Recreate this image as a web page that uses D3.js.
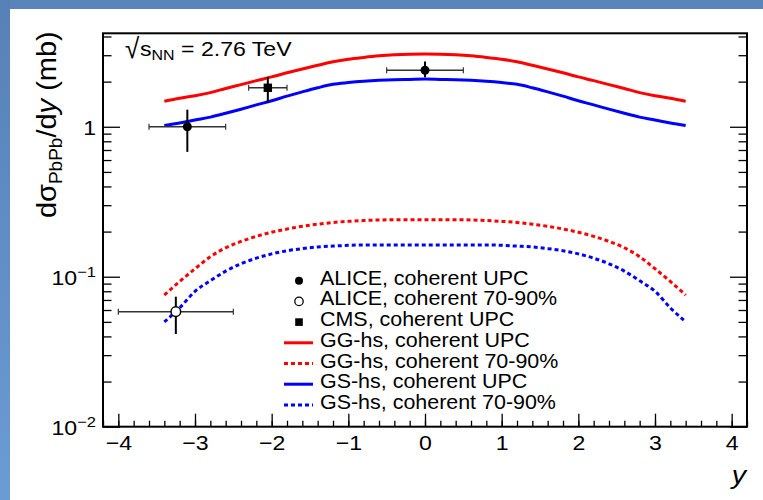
<!DOCTYPE html>
<html>
<head>
<meta charset="utf-8">
<script src="https://cdn.jsdelivr.net/npm/d3@7"></script>
<style>
  html, body { margin: 0; padding: 0; background: #ffffff; }
  svg { display: block; font-family: "Liberation Sans", Arial, Helvetica, sans-serif; }
</style>
</head>
<body>
<svg id="chart" width="763" height="500"></svg>
<script>
// ---- model curves: rapidity grid and cross sections (mb) ----
const rapidity = [-3.4, -3.2, -3.0, -2.8, -2.6, -2.4, -2.2, -2.0, -1.8, -1.6, -1.4, -1.2, -1.0, -0.8, -0.6, -0.4, -0.2, 0.0,
                  0.2, 0.4, 0.6, 0.8, 1.0, 1.2, 1.4, 1.6, 1.8, 2.0, 2.2, 2.4, 2.6, 2.8, 3.0, 3.2, 3.4];
const ggUPC = [1.48, 1.55, 1.61, 1.69, 1.80, 1.91, 2.03, 2.15, 2.29, 2.43, 2.57, 2.71, 2.82, 2.90, 2.97, 3.02, 3.05, 3.06,
               3.05, 3.02, 2.97, 2.90, 2.82, 2.71, 2.57, 2.43, 2.29, 2.15, 2.03, 1.91, 1.80, 1.69, 1.61, 1.55, 1.48];
const ggPeriph = [0.0755, 0.093, 0.113, 0.136, 0.156, 0.172, 0.186, 0.198, 0.208, 0.217, 0.224, 0.230, 0.234, 0.237, 0.239, 0.240, 0.240, 0.240,
                  0.240, 0.240, 0.239, 0.237, 0.234, 0.230, 0.224, 0.217, 0.208, 0.198, 0.186, 0.172, 0.156, 0.136, 0.113, 0.093, 0.0755];
const gsUPC = [1.02, 1.06, 1.11, 1.16, 1.23, 1.31, 1.40, 1.49, 1.60, 1.71, 1.82, 1.92, 1.97, 2.01, 2.04, 2.06, 2.07, 2.08,
               2.07, 2.06, 2.04, 2.01, 1.97, 1.92, 1.82, 1.71, 1.60, 1.49, 1.40, 1.31, 1.23, 1.16, 1.11, 1.06, 1.02];
const gsPeriph = [0.050, 0.062, 0.080, 0.094, 0.109, 0.122, 0.133, 0.142, 0.149, 0.154, 0.158, 0.160, 0.162, 0.163, 0.163, 0.163, 0.163, 0.163,
                  0.163, 0.163, 0.163, 0.163, 0.162, 0.160, 0.158, 0.154, 0.149, 0.142, 0.133, 0.122, 0.109, 0.094, 0.080, 0.062, 0.050];

// ---- measurements: centre, rapidity bin edges, value, error band (mb) ----
const aliceUPC = [
  { y: -3.1, yLo: -3.6, yHi: -2.6, v: 1.00, vLo: 0.68, vHi: 1.30 },
  { y: 0.0, yLo: -0.5, yHi: 0.5, v: 2.38, vLo: 2.14, vHi: 2.72 }
];
const alicePeriph = [
  { y: -3.25, yLo: -4.0, yHi: -2.5, v: 0.0585, vLo: 0.0415, vHi: 0.0736 }
];
const cmsUPC = [
  { y: -2.05, yLo: -2.3, yHi: -1.8, v: 1.82, vLo: 1.45, vHi: 2.15 }
];

// ---- axes ----
const xMajor = [-4, -3, -2, -1, 0, 1, 2, 3, 4];
const xMinor = d3.range(-42, 43, 2).map(v => v / 10);
const yMajor = [0.01, 0.1, 1];
const yTickLabels = [["10", "\u22122"], ["10", "\u22121"], ["1", ""]];
const yMinor = [0.02, 0.03, 0.04, 0.05, 0.06, 0.07, 0.08, 0.09, 0.2, 0.3, 0.4, 0.5, 0.6, 0.7, 0.8, 0.9, 2, 3, 4];

const legendItems = [
  { label: "ALICE, coherent UPC", kind: "dot" },
  { label: "ALICE, coherent 70-90%", kind: "open" },
  { label: "CMS, coherent UPC", kind: "square" },
  { label: "GG-hs, coherent UPC", kind: "line", color: "#ff0000", dashed: false },
  { label: "GG-hs, coherent 70-90%", kind: "line", color: "#ff0000", dashed: true },
  { label: "GS-hs, coherent UPC", kind: "line", color: "#0000ff", dashed: false },
  { label: "GS-hs, coherent 70-90%", kind: "line", color: "#0000ff", dashed: true }
];

const W = 763, H = 500;
const plot = { left: 103, right: 747, top: 33.3, bottom: 426.7 };
const SX = 1.1; // horizontal stretch of the lettering

const svg = d3.select("#chart");

// page frame with blue border strips
const defs = svg.append("defs");
const gradLeft = defs.append("linearGradient").attr("id", "gl").attr("x1", 0).attr("y1", 0).attr("x2", 0).attr("y2", 1);
gradLeft.append("stop").attr("offset", "0%").attr("stop-color", "#5780b6");
gradLeft.append("stop").attr("offset", "100%").attr("stop-color", "#6a9cd3");
svg.append("rect").attr("width", W).attr("height", H).attr("fill", "#ffffff");
svg.append("rect").attr("x", 0).attr("y", 0).attr("width", W).attr("height", 9).attr("fill", "#5a85ba");
svg.append("rect").attr("x", 0).attr("y", 0).attr("width", 10).attr("height", H).attr("fill", "url(#gl)");

const x = d3.scaleLinear().domain([-4.2, 4.2]).range([plot.left, plot.right]);
const y = d3.scaleLog().domain([0.01, 4.2]).range([plot.bottom, plot.top]);

// bottom axis: major ticks with labels, minor ticks
svg.append("g").attr("transform", `translate(0,${plot.bottom})`)
  .call(d3.axisBottom(x).tickValues(xMinor.filter(v => v >= -4.2 && v <= 4.2)).tickSize(-6).tickFormat(""));
const gx = svg.append("g").attr("transform", `translate(0,${plot.bottom})`)
  .call(d3.axisBottom(x).tickValues(xMajor).tickSize(-13).tickPadding(8).tickFormat(d3.format("d")));
gx.selectAll("text").attr("font-size", 21).attr("fill", "#000").attr("transform", `scale(${SX},1)`);

// left axis
svg.append("g").attr("transform", `translate(${plot.left},0)`)
  .call(d3.axisLeft(y).tickValues(yMinor).tickSize(-8.5).tickFormat(""));
const gy = svg.append("g").attr("transform", `translate(${plot.left},0)`)
  .call(d3.axisLeft(y).tickValues(yMajor).tickSize(-17).tickFormat(""));
gy.selectAll(".tick text").each(function (d, i) {
  const t = d3.select(this).attr("x", -7 / SX).attr("dy", "0.36em").attr("fill", "#000")
    .attr("font-size", 21).attr("text-anchor", "end").attr("transform", `scale(${SX},1)`);
  const lab = yTickLabels[i];
  t.append("tspan").text(lab[0]);
  if (lab[1]) t.append("tspan").attr("dy", "-0.5em").attr("font-size", 15).text(lab[1]);
});

// right axis ticks (no labels)
svg.append("g").attr("transform", `translate(${plot.right},0)`)
  .call(d3.axisRight(y).tickValues(yMinor).tickSize(-8.5).tickFormat(""));
svg.append("g").attr("transform", `translate(${plot.right},0)`)
  .call(d3.axisRight(y).tickValues(yMajor).tickSize(-17).tickFormat(""));

svg.selectAll(".domain").remove();
svg.selectAll(".tick line").attr("stroke", "#000").attr("stroke-width", 1.3);

// plot frame
svg.append("rect")
  .attr("x", plot.left).attr("y", plot.top)
  .attr("width", plot.right - plot.left).attr("height", plot.bottom - plot.top)
  .attr("fill", "none").attr("stroke", "#000").attr("stroke-width", 2);

// model curves
const line = d3.line().x(d => x(d[0])).y(d => y(d[1])).curve(d3.curveMonotoneX);
const curves = [
  { vals: ggPeriph, color: "#ff0000", dashed: true },
  { vals: gsPeriph, color: "#0000ff", dashed: true },
  { vals: ggUPC, color: "#ff0000", dashed: false },
  { vals: gsUPC, color: "#0000ff", dashed: false }
];
curves.forEach(c => {
  svg.append("path")
    .datum(rapidity.map((r, i) => [r, c.vals[i]]))
    .attr("d", line)
    .attr("fill", "none")
    .attr("stroke", c.color)
    .attr("stroke-width", 3)
    .attr("stroke-dasharray", c.dashed ? "4,3" : null);
});

// measurement error bars and markers
function errorBars(data) {
  const g = svg.append("g");
  data.forEach(p => {
    g.append("line").attr("x1", x(p.yLo)).attr("x2", x(p.yHi)).attr("y1", y(p.v)).attr("y2", y(p.v))
      .attr("stroke", "#333").attr("stroke-width", 1.5);
    [p.yLo, p.yHi].forEach(e => g.append("line").attr("x1", x(e)).attr("x2", x(e))
      .attr("y1", y(p.v) - 3).attr("y2", y(p.v) + 3).attr("stroke", "#333").attr("stroke-width", 1.2));
    g.append("line").attr("x1", x(p.y)).attr("x2", x(p.y)).attr("y1", y(p.vLo)).attr("y2", y(p.vHi))
      .attr("stroke", "#000").attr("stroke-width", 2);
  });
}
errorBars(aliceUPC);
errorBars(alicePeriph);
errorBars(cmsUPC);

svg.append("g").selectAll("circle").data(aliceUPC).join("circle")
  .attr("cx", d => x(d.y)).attr("cy", d => y(d.v)).attr("r", 4.5).attr("fill", "#000");
svg.append("g").selectAll("circle").data(alicePeriph).join("circle")
  .attr("cx", d => x(d.y)).attr("cy", d => y(d.v)).attr("r", 4.8).attr("fill", "#fff")
  .attr("stroke", "#000").attr("stroke-width", 1.5);
svg.append("g").selectAll("rect").data(cmsUPC).join("rect")
  .attr("x", d => x(d.y) - 4.2).attr("y", d => y(d.v) - 4.2).attr("width", 8.4).attr("height", 8.4).attr("fill", "#000");

// legend
const legend = svg.append("g");
legendItems.forEach((it, i) => {
  const cy = 280.7 + i * 20.7;
  if (it.kind === "dot") legend.append("circle").attr("cx", 299).attr("cy", cy).attr("r", 4).attr("fill", "#000");
  if (it.kind === "open") legend.append("circle").attr("cx", 299).attr("cy", cy).attr("r", 4.2)
    .attr("fill", "#fff").attr("stroke", "#000").attr("stroke-width", 1.3);
  if (it.kind === "square") legend.append("rect").attr("x", 295.2).attr("y", cy - 3.8).attr("width", 7.6).attr("height", 7.6).attr("fill", "#000");
  if (it.kind === "line") legend.append("line").attr("x1", 284).attr("x2", 313).attr("y1", cy).attr("y2", cy)
    .attr("stroke", it.color).attr("stroke-width", 3).attr("stroke-dasharray", it.dashed ? "4,3" : null);
  legend.append("text").attr("transform", `translate(320,${cy + 4}) scale(${SX},1)`)
    .attr("font-size", 19.5).attr("fill", "#000").text(it.label);
});

// energy annotation
const ann = svg.append("g").attr("fill", "#000");
ann.append("text").attr("transform", `translate(125,58) scale(1,1.08)`).attr("font-size", 26).text("\u221A");
const annText = ann.append("text").attr("transform", `translate(140,56) scale(${SX},1)`).attr("font-size", 21);
annText.append("tspan").text("s");
annText.append("tspan").attr("font-size", 14.5).attr("dy", 4).text("NN");
annText.append("tspan").attr("dy", -4).text(" = 2.76 TeV");

// axis titles
svg.append("text").attr("transform", `translate(746,484) scale(${SX},1)`).attr("text-anchor", "end")
  .attr("font-size", 26).attr("font-style", "italic").text("y");

const yt = svg.append("text").attr("transform", `translate(56,${plot.top - 2}) rotate(-90) scale(1,0.95)`)
  .attr("text-anchor", "end").attr("font-size", 29);
yt.append("tspan").text("d\u03C3");
yt.append("tspan").attr("font-size", 19).attr("dy", 6).text("PbPb");
yt.append("tspan").attr("dy", -6).text("/d");
yt.append("tspan").attr("font-style", "italic").text("y");
yt.append("tspan").text(" (mb)");
</script>
</body>
</html>
